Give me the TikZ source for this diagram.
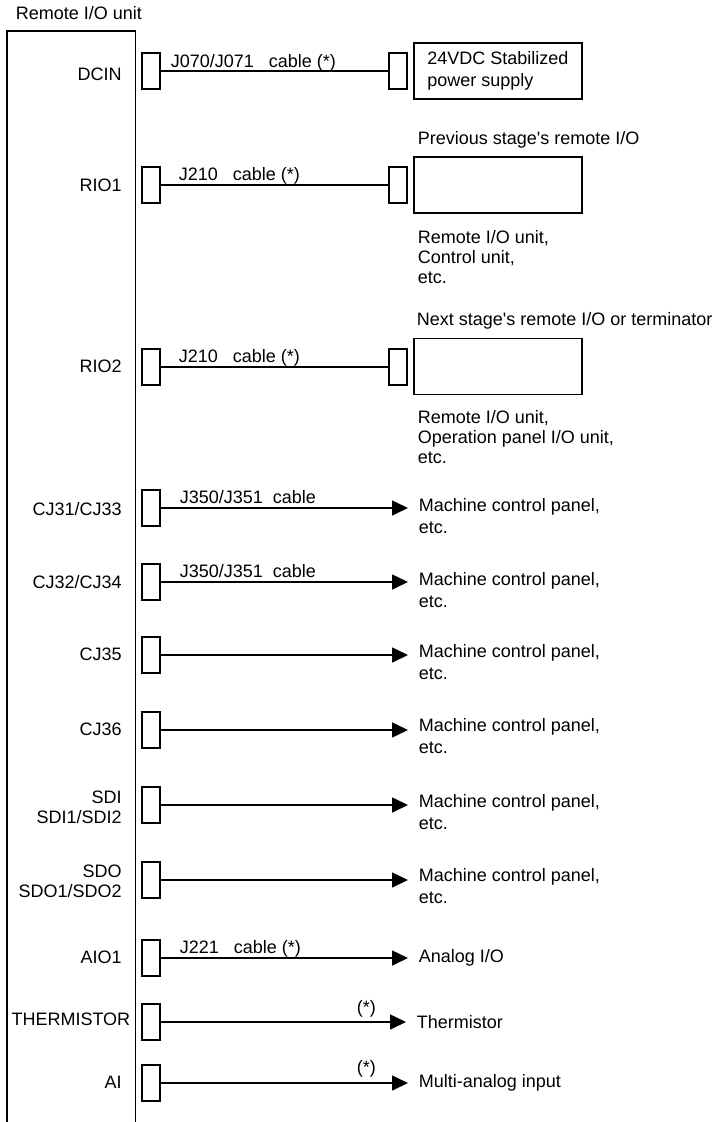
\documentclass[tikz,border=0pt]{standalone}
\usepackage{fontspec}
\setmainfont{Liberation Sans}
\usepackage{tikz}
\usetikzlibrary{arrows.meta,positioning}

\begin{document}
\begin{tikzpicture}[
    x=0.5pt, y=-0.5pt, line width=0.8pt,
    every node/.style={font=\fontsize{9}{11}\selectfont},
    unitbox/.style={rectangle, minimum width=63.5pt, minimum height=545.5pt, anchor=north west, inner sep=0pt},
    plug/.style={rectangle, draw, minimum width=9pt, minimum height=18pt, inner sep=0pt},
    dev/.style={rectangle, draw, minimum width=84pt, minimum height=28pt, inner sep=0pt, align=left},
    port/.style={anchor=east, align=right, inner sep=0pt, font=\fontsize{9}{10}\selectfont},
    cbl/.style={anchor=base west, inner sep=0pt},
    note/.style={anchor=west, align=left, inner sep=0pt, font=\fontsize{9}{10}\selectfont},
    dst/.style={anchor=west, align=left, inner xsep=5pt, inner ysep=0pt},
    arr/.style={-{Triangle[length=8pt, width=7.5pt]}}
  ]
    \useasboundingbox (0,0) rectangle (712,1122);
    \node[unitbox] (unit) at (7,31) {};
    \draw (unit.south west) -- (unit.north west) -- (unit.north east) -- (unit.south east);
    \node[note] (unitlbl) at (15,13) {Remote I/O unit};

    \node[plug] (cdcin) at (151,71) {};
    \node[plug] (rdcin) at (398,71) {};
    \node[dev] (pwr) at (498,71) {24VDC Stabilized\\power supply};
    \node[port] (ldcin) at (122.5,74) {DCIN};
    \node[cbl] (kdcin) at (170,68) {J070/J071~~~cable (*)};
    \draw (cdcin) -- (rdcin);

    \node[plug] (crio1) at (151,185) {};
    \node[plug] (rrio1) at (398,185) {};
    \node[dev] (prev) at (498,185) {};
    \node[port] (lrio1) at (122.5,185) {RIO1};
    \node[cbl] (krio1) at (178,181) {J210~~~cable (*)};
    \node[note] (prevtop) at (417,140) {Previous stage\textquotesingle s remote I/O};
    \node[note] (prevbot) at (417,257) {Remote I/O unit,\\Control unit,\\etc.};
    \draw (crio1) -- (rrio1);

    \node[plug] (crio2) at (151,367) {};
    \node[plug] (rrio2) at (398,367) {};
    \node[dev] (next) at (498,366.5) {};
    \node[port] (lrio2) at (122.5,366) {RIO2};
    \node[cbl] (krio2) at (178,363) {J210~~~cable (*)};
    \node[note] (nexttop) at (416,321) {Next stage\textquotesingle s remote I/O or terminator};
    \node[note] (nextbot) at (417,437) {Remote I/O unit,\\Operation panel I/O unit,\\etc.};
    \draw (crio2) -- (rrio2);

    \node[plug] (ccj31) at (151,508) {};
    \node[port] (lcj31) at (122.5,509) {CJ31/CJ33};
    \node[dst] (mcp1) at (408,516) {Machine control panel,\\etc.};
    \node[cbl] (kcj31) at (179,503) {J350/J351~~cable};
    \draw[arr] (ccj31) -- (ccj31 -| mcp1.west);

    \node[plug] (ccj32) at (151,582) {};
    \node[port] (lcj32) at (122.5,582) {CJ32/CJ34};
    \node[dst] (mcp2) at (408,590) {Machine control panel,\\etc.};
    \node[cbl] (kcj32) at (179,577) {J350/J351~~cable};
    \draw[arr] (ccj32) -- (ccj32 -| mcp2.west);

    \node[plug] (ccj35) at (151,655) {};
    \node[port] (lcj35) at (122.5,654) {CJ35};
    \node[dst] (mcp3) at (408,662) {Machine control panel,\\etc.};
    \draw[arr] (ccj35) -- (ccj35 -| mcp3.west);

    \node[plug] (ccj36) at (151,730) {};
    \node[port] (lcj36) at (122.5,729) {CJ36};
    \node[dst] (mcp4) at (408,736.5) {Machine control panel,\\etc.};
    \draw[arr] (ccj36) -- (ccj36 -| mcp4.west);

    \node[plug] (csdi) at (151,805) {};
    \node[port] (lsdi) at (122.5,807) {SDI\\SDI1/SDI2};
    \node[dst] (mcp5) at (408,812.5) {Machine control panel,\\etc.};
    \draw[arr] (csdi) -- (csdi -| mcp5.west);

    \node[plug] (csdo) at (151,880) {};
    \node[port] (lsdo) at (122.5,881.5) {SDO\\SDO1/SDO2};
    \node[dst] (mcp6) at (408,886.5) {Machine control panel,\\etc.};
    \draw[arr] (csdo) -- (csdo -| mcp6.west);

    \node[plug] (caio) at (151,958) {};
    \node[port] (laio) at (122.5,957) {AIO1};
    \node[dst] (anio) at (408,958) {Analog I/O};
    \node[cbl] (kaio) at (179,953) {J221~~~cable (*)};
    \draw[arr] (caio) -- (caio -| anio.west);

    \node[plug] (cthm) at (151,1022) {};
    \node[port] (lthm) at (131,1019) {THERMISTOR};
    \node[dst] (thm) at (406,1022) {Thermistor};
    \node[cbl] (kthm) at (356,1013) {(*)};
    \draw[arr] (cthm) -- (cthm -| thm.west);

    \node[plug] (cai) at (151,1083) {};
    \node[port] (lai) at (122.5,1082) {AI};
    \node[dst] (mai) at (408,1083) {Multi-analog input};
    \node[cbl] (kai) at (356,1073) {(*)};
    \draw[arr] (cai) -- (cai -| mai.west);
  \end{tikzpicture}
\end{document}
